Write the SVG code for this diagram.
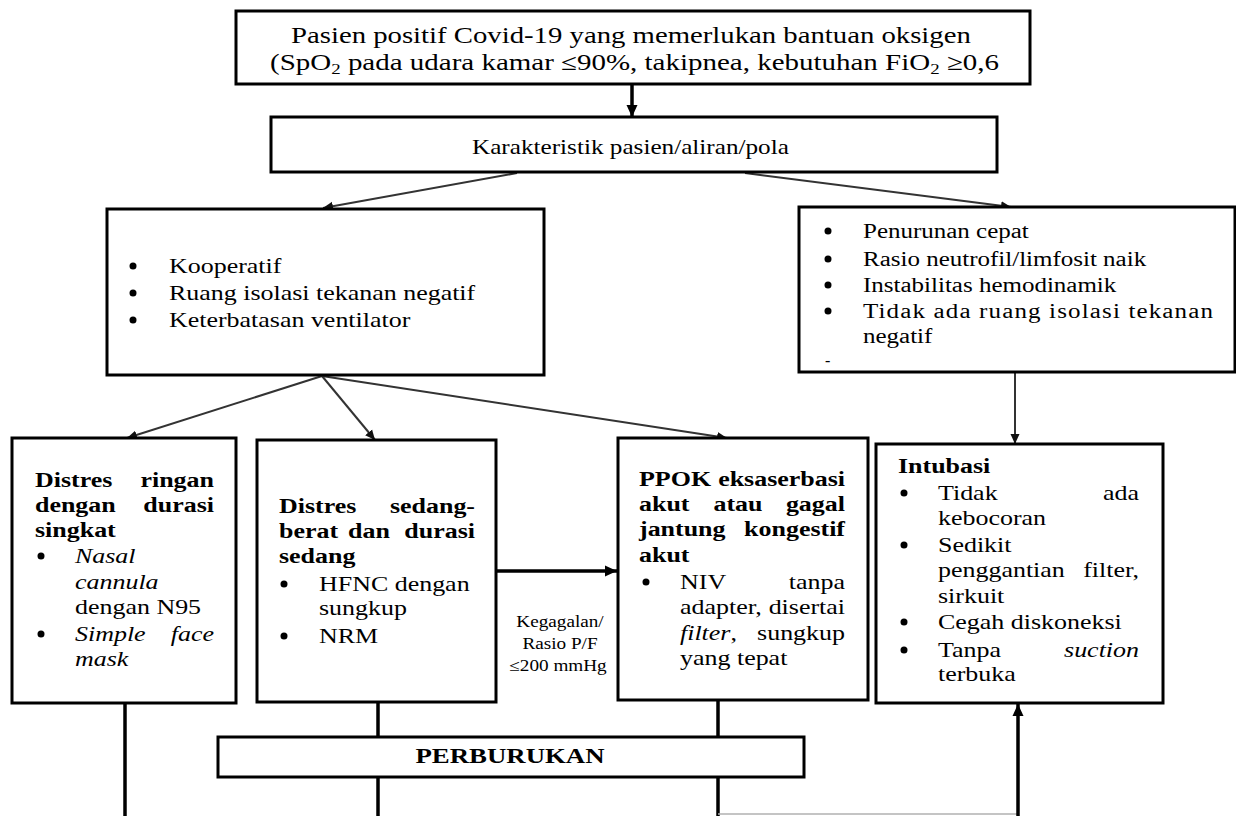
<svg xmlns="http://www.w3.org/2000/svg" width="1236" height="816" viewBox="0 0 1236 816">
<style>
.t{font-family:"Liberation Serif","Times New Roman",serif;fill:#000;font-size:22px}
.s23{font-size:23px}
.s21{font-size:21px}
.s20{font-size:20px}
.s16{font-size:16px}
.b{font-weight:bold}
.i{font-style:italic}
.box{fill:#fff;stroke:#000;stroke-width:3}
.thin{stroke:#333;stroke-width:2;fill:none}
.thick{stroke:#000;stroke-width:3.5;fill:none}
.faint{stroke:#b0b0b0;stroke-width:1.5;fill:none}
</style>
<defs>
<marker id="ah" markerUnits="userSpaceOnUse" markerWidth="10" markerHeight="10" refX="10" refY="5" orient="auto">
<path d="M0,0.5 L10,5 L0,9.5 z" fill="#111"/>
</marker>
<marker id="ahb" markerUnits="userSpaceOnUse" markerWidth="12" markerHeight="12" refX="12" refY="6" orient="auto">
<path d="M0,0.5 L12,6 L0,11.5 z" fill="#000"/>
</marker>
</defs>
<rect width="1236" height="816" fill="#fff"/>

<g id="connectors">
<line class="thick" x1="632" y1="84" x2="632" y2="117" marker-end="url(#ahb)"/>
<line class="thin" x1="517" y1="173" x2="323" y2="208" marker-end="url(#ah)"/>
<line class="thin" x1="745" y1="173" x2="1011" y2="207" marker-end="url(#ah)"/>
<line class="thin" x1="322" y1="376" x2="127" y2="438" marker-end="url(#ah)"/>
<line class="thin" x1="322" y1="376" x2="375" y2="440" marker-end="url(#ah)"/>
<line class="thin" x1="322" y1="376" x2="727" y2="438" marker-end="url(#ah)"/>
<line class="thin" x1="1015" y1="373" x2="1015" y2="444" marker-end="url(#ah)"/>
<line class="thick" x1="497" y1="571" x2="617" y2="571" marker-end="url(#ahb)"/>
<line class="thick" x1="125" y1="703" x2="125" y2="816"/>
<line class="thick" x1="378" y1="702" x2="378" y2="737"/>
<line class="thick" x1="378" y1="777" x2="378" y2="816"/>
<line class="thick" x1="718" y1="700" x2="718" y2="737"/>
<line class="thick" x1="718" y1="777" x2="718" y2="816"/>
<line class="faint" x1="718" y1="814" x2="1018" y2="814"/>
<line class="thick" x1="1018" y1="816" x2="1018" y2="704" marker-end="url(#ahb)"/>
<text class="t s16" text-anchor="middle" transform="translate(560 627) scale(1.2 1)">Kegagalan/</text>
<text class="t s16" text-anchor="middle" transform="translate(560 649) scale(1.2 1)">Rasio P/F</text>
<text class="t s16" text-anchor="middle" transform="translate(558 671) scale(1.2 1)">≤200 mmHg</text>
</g>

<g id="node-start">
<rect class="box" x="236" y="11" width="794" height="73"/>
<text class="t s23" transform="translate(291 43) scale(1.25 1)">Pasien positif Covid-19 yang memerlukan bantuan oksigen</text>
<text class="t s23" transform="translate(270 70) scale(1.26 1)">(SpO<tspan font-size="15" dy="4">2</tspan><tspan dy="-4"> pada udara kamar ≤90%, takipnea, kebutuhan FiO</tspan><tspan font-size="15" dy="4">2</tspan><tspan dy="-4"> ≥0,6</tspan></text>
</g>

<g id="node-karakteristik">
<rect class="box" x="271" y="117" width="726" height="55"/>
<text class="t s21" transform="translate(472 154) scale(1.2 1)">Karakteristik pasien/aliran/pola</text>
</g>

<g id="node-left-criteria">
<rect class="box" x="107" y="209" width="437" height="166"/>
<circle cx="133" cy="266" r="3.5"/>
<circle cx="133" cy="293" r="3.5"/>
<circle cx="133" cy="320" r="3.5"/>
<text class="t" transform="translate(169 273) scale(1.18 1)">Kooperatif</text>
<text class="t" transform="translate(169 300) scale(1.18 1)">Ruang isolasi tekanan negatif</text>
<text class="t" transform="translate(169 327) scale(1.18 1)">Keterbatasan ventilator</text>
</g>

<g id="node-right-criteria">
<rect class="box" x="799" y="207" width="436" height="165"/>
<circle cx="828" cy="231" r="3.5"/>
<circle cx="828" cy="259" r="3.5"/>
<circle cx="828" cy="285" r="3.5"/>
<circle cx="828" cy="311" r="3.5"/>
<text class="t s20" transform="translate(863 238) scale(1.25 1)">Penurunan cepat</text>
<text class="t s20" transform="translate(863 266) scale(1.25 1)">Rasio neutrofil/limfosit naik</text>
<text class="t s20" transform="translate(863 292) scale(1.25 1)">Instabilitas hemodinamik</text>
<text class="t s20" transform="translate(863 318) scale(1.25 1)" textLength="280" lengthAdjust="spacing">Tidak ada ruang isolasi tekanan</text>
<text class="t s20" transform="translate(863 343) scale(1.25 1)">negatif</text>
<text class="t s16" transform="translate(825 366)">-</text>
</g>

<g id="node-ringan">
<rect class="box" x="12" y="438" width="224" height="265"/>
<text class="t b" transform="translate(35 487) scale(1.18 1)">Distres</text>
<text class="t b" text-anchor="end" transform="translate(214 487) scale(1.18 1)">ringan</text>
<text class="t b" transform="translate(35 512) scale(1.18 1)">dengan</text>
<text class="t b" text-anchor="end" transform="translate(214 512) scale(1.18 1)">durasi</text>
<text class="t b" transform="translate(35 537) scale(1.18 1)">singkat</text>
<circle cx="41" cy="556" r="3.5"/>
<text class="t i" transform="translate(75 563) scale(1.18 1)">Nasal</text>
<text class="t i" transform="translate(75 589) scale(1.18 1)">cannula</text>
<text class="t" transform="translate(75 614) scale(1.18 1)">dengan N95</text>
<circle cx="41" cy="634" r="3.5"/>
<text class="t i" transform="translate(75 641) scale(1.18 1)">Simple</text>
<text class="t i" text-anchor="end" transform="translate(214 641) scale(1.18 1)">face</text>
<text class="t i" transform="translate(75 666) scale(1.18 1)">mask</text>
</g>

<g id="node-sedang">
<rect class="box" x="257" y="440" width="239" height="262"/>
<text class="t b" transform="translate(279 513) scale(1.18 1)">Distres</text>
<text class="t b" text-anchor="end" transform="translate(475 513) scale(1.18 1)">sedang-</text>
<text class="t b" transform="translate(279 538) scale(1.18 1)">berat</text>
<text class="t b" text-anchor="middle" transform="translate(369 538) scale(1.18 1)">dan</text>
<text class="t b" text-anchor="end" transform="translate(475 538) scale(1.18 1)">durasi</text>
<text class="t b" transform="translate(279 563) scale(1.18 1)">sedang</text>
<circle cx="284" cy="584" r="3.5"/>
<text class="t" transform="translate(319 591) scale(1.18 1)">HFNC dengan</text>
<text class="t" transform="translate(319 615) scale(1.18 1)">sungkup</text>
<circle cx="284" cy="636" r="3.5"/>
<text class="t" transform="translate(319 643) scale(1.18 1)">NRM</text>
</g>

<g id="node-ppok">
<rect class="box" x="618" y="438" width="250" height="262"/>
<text class="t b" transform="translate(639 486) scale(1.18 1)">PPOK</text>
<text class="t b" text-anchor="end" transform="translate(845 486) scale(1.18 1)">eksaserbasi</text>
<text class="t b" transform="translate(639 511) scale(1.18 1)">akut</text>
<text class="t b" text-anchor="middle" transform="translate(738 511) scale(1.18 1)">atau</text>
<text class="t b" text-anchor="end" transform="translate(845 511) scale(1.18 1)">gagal</text>
<text class="t b" transform="translate(639 536) scale(1.18 1)">jantung</text>
<text class="t b" text-anchor="end" transform="translate(845 536) scale(1.18 1)">kongestif</text>
<text class="t b" transform="translate(639 562) scale(1.18 1)">akut</text>
<circle cx="646" cy="582" r="3.5"/>
<text class="t" transform="translate(680 589) scale(1.18 1)">NIV</text>
<text class="t" text-anchor="end" transform="translate(845 589) scale(1.18 1)">tanpa</text>
<text class="t" transform="translate(680 614) scale(1.18 1)">adapter,</text>
<text class="t" text-anchor="end" transform="translate(845 614) scale(1.18 1)">disertai</text>
<text class="t" transform="translate(680 640) scale(1.18 1)"><tspan class="i">filter</tspan>,</text>
<text class="t" text-anchor="end" transform="translate(845 640) scale(1.18 1)">sungkup</text>
<text class="t" transform="translate(680 665) scale(1.18 1)">yang tepat</text>
</g>

<g id="node-intubasi">
<rect class="box" x="876" y="444" width="287" height="259"/>
<text class="t b" transform="translate(898 473) scale(1.18 1)">Intubasi</text>
<circle cx="904" cy="493" r="3.5"/>
<text class="t" transform="translate(938 500) scale(1.18 1)">Tidak</text>
<text class="t" text-anchor="end" transform="translate(1139 500) scale(1.18 1)">ada</text>
<text class="t" transform="translate(938 525) scale(1.18 1)">kebocoran</text>
<circle cx="904" cy="545" r="3.5"/>
<text class="t" transform="translate(938 552) scale(1.18 1)">Sedikit</text>
<text class="t" transform="translate(938 577) scale(1.18 1)">penggantian</text>
<text class="t" text-anchor="end" transform="translate(1139 577) scale(1.18 1)">filter,</text>
<text class="t" transform="translate(938 603) scale(1.18 1)">sirkuit</text>
<circle cx="904" cy="622" r="3.5"/>
<text class="t" transform="translate(938 629) scale(1.18 1)">Cegah diskoneksi</text>
<circle cx="904" cy="650" r="3.5"/>
<text class="t" transform="translate(938 657) scale(1.18 1)">Tanpa</text>
<text class="t i" text-anchor="end" transform="translate(1139 657) scale(1.18 1)">suction</text>
<text class="t" transform="translate(938 681) scale(1.18 1)">terbuka</text>
</g>

<g id="node-perburukan">
<rect class="box" x="218" y="737" width="586" height="40"/>
<text class="t b" text-anchor="middle" transform="translate(510 763) scale(1.22 1)">PERBURUKAN</text>
</g>
</svg>
